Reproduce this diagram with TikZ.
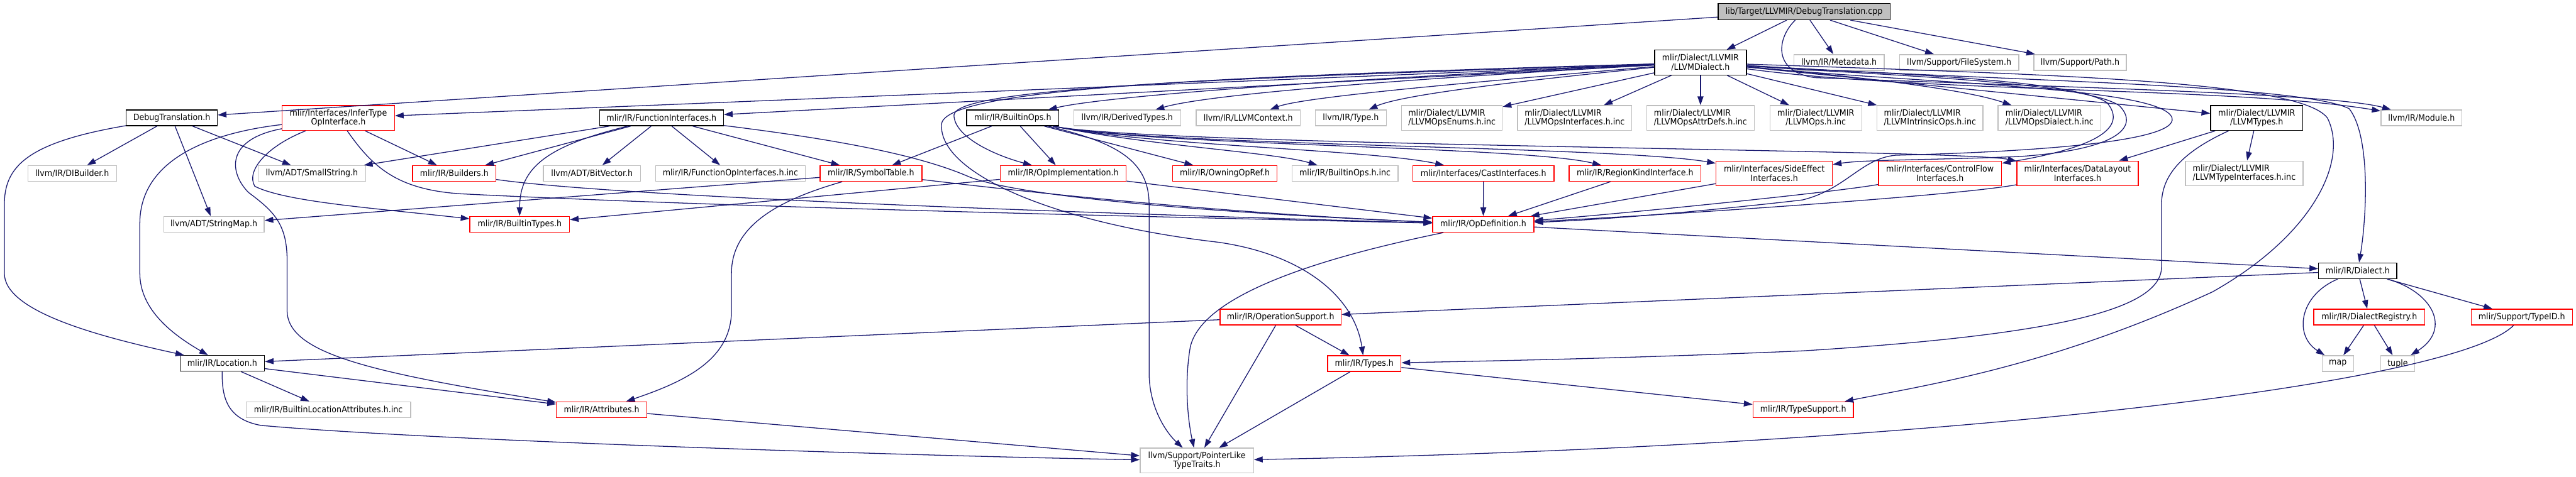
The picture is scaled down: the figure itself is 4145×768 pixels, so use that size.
\documentclass[tikz,border=0pt]{standalone}
\usepackage{fontspec}
\newfontfamily\gfont{DejaVu Sans}[FakeStretch=0.915]
\usetikzlibrary{arrows.meta}
\definecolor{edgeblue}{HTML}{191970}
\definecolor{boxgray}{HTML}{BFBFBF}
\definecolor{boxred}{HTML}{FF0000}
\tikzset{
  box/.style={draw, line width=1.4pt, minimum height=25.3, inner sep=1pt,
    font=\gfont\fontsize{14}{14.5}\selectfont, align=center, fill=white},
  gbox/.style={box, draw=boxgray},
  gboxl/.style={box, draw=boxgray, align=left},
  rbox/.style={box, draw=boxred},
  kbox/.style={box, draw=black},
  two/.style={minimum height=40},
  e/.style={draw=edgeblue, line width=1.3pt, -{Triangle[length=14pt,width=9.5pt]}}
}
\begin{document}
\begin{tikzpicture}[x=1pt,y=-1pt]
\fill[white] (0,0) rectangle (4145,768);
\useasboundingbox (0,0) rectangle (4145,768);

% ---------- nodes ----------
\node[kbox, fill=boxgray, minimum width=276.8, minimum height=26] (cpp) at (2902.9,18.7) {lib/Target/LLVMIR/DebugTranslation.cpp};

\node[kbox, two, minimum width=147.6] (lld) at (2736.2,100.7) {mlir/Dialect/LLVMIR\\/LLVMDialect.h};
\node[gbox, minimum width=145.6] (meta) at (2959.1,100.5) {llvm/IR/Metadata.h};
\node[gbox, minimum width=192] (fs) at (3152.4,100.5) {llvm/Support/FileSystem.h};
\node[gbox, minimum width=149.1] (path) at (3347,100.5) {llvm/Support/Path.h};

\node[kbox, minimum width=146.5] (dth) at (276.4,189.8) {DebugTranslation.h};
\node[rbox, two, minimum width=180.8] (ito) at (544.4,190) {mlir/Interfaces/InferType\\OpInterface.h};
\node[kbox, minimum width=199.5] (fi) at (1064.4,189.8) {mlir/IR/FunctionInterfaces.h};
\node[kbox, minimum width=148.2] (bo) at (1629.5,189.8) {mlir/IR/BuiltinOps.h};
\node[gbox, minimum width=171.9] (dt) at (1813.7,189.8) {llvm/IR/DerivedTypes.h};
\node[gbox, minimum width=167.7] (ctx) at (2008.5,189.8) {llvm/IR/LLVMContext.h};
\node[gbox, minimum width=114.3] (type) at (2173.6,189.8) {llvm/IR/Type.h};
\node[gboxl, two, minimum width=162] (enums) at (2336.3,190) {mlir/Dialect/LLVMIR\\/LLVMOpsEnums.h.inc};
\node[gboxl, two, minimum width=183.9] (ifc) at (2533.8,190) {mlir/Dialect/LLVMIR\\/LLVMOpsInterfaces.h.inc};
\node[gboxl, two, minimum width=173.4] (attrdefs) at (2736.2,190) {mlir/Dialect/LLVMIR\\/LLVMOpsAttrDefs.h.inc};
\node[gbox, two, minimum width=147.8] (opsinc) at (2921.8,190) {mlir/Dialect/LLVMIR\\/LLVMOps.h.inc};
\node[gboxl, two, minimum width=170.5] (intr) at (3105.5,190) {mlir/Dialect/LLVMIR\\/LLVMIntrinsicOps.h.inc};
\node[gboxl, two, minimum width=165.6] (opsdia) at (3297.7,190) {mlir/Dialect/LLVMIR\\/LLVMOpsDialect.h.inc};
\node[kbox, two, minimum width=148.3] (llt) at (3631.2,190) {mlir/Dialect/LLVMIR\\/LLVMTypes.h};
\node[gbox, minimum width=130.3] (module) at (3896.3,189.8) {llvm/IR/Module.h};

\node[gbox, minimum width=142.4] (dib) at (116.3,279.3) {llvm/IR/DIBuilder.h};
\node[gbox, minimum width=173.2] (ss) at (501.8,279.3) {llvm/ADT/SmallString.h};
\node[rbox, minimum width=134] (bld) at (730.9,279.3) {mlir/IR/Builders.h};
\node[gbox, minimum width=156.2] (bv) at (952.5,279.3) {llvm/ADT/BitVector.h};
\node[gbox, minimum width=241.1] (foi) at (1175.3,279.3) {mlir/IR/FunctionOpInterfaces.h.inc};
\node[rbox, minimum width=164] (st) at (1401.5,279.3) {mlir/IR/SymbolTable.h};
\node[rbox, minimum width=202.7] (oi) at (1710.8,279.3) {mlir/IR/OpImplementation.h};
\node[rbox, minimum width=168.3] (oor) at (1970.9,279.3) {mlir/IR/OwningOpRef.h};
\node[gbox, minimum width=170.6] (boinc) at (2164.2,279.3) {mlir/IR/BuiltinOps.h.inc};
\node[rbox, minimum width=226.8] (cast) at (2387,279.3) {mlir/Interfaces/CastInterfaces.h};
\node[rbox, minimum width=212.1] (rk) at (2631,279.3) {mlir/IR/RegionKindInterface.h};
\node[rbox, two, minimum width=187.1] (se) at (2854.9,279.3) {mlir/Interfaces/SideEffect\\Interfaces.h};
\node[rbox, two, minimum width=198.2] (cf) at (3121.6,279.3) {mlir/Interfaces/ControlFlow\\Interfaces.h};
\node[rbox, two, minimum width=195.5] (dl) at (3343,279.3) {mlir/Interfaces/DataLayout\\Interfaces.h};
\node[gboxl, two, minimum width=189.3] (tifc) at (3611.1,279.3) {mlir/Dialect/LLVMIR\\/LLVMTypeInterfaces.h.inc};

\node[gbox, minimum width=161.6] (sm) at (344.2,361.2) {llvm/ADT/StringMap.h};
\node[rbox, minimum width=160.2] (bt) at (836.2,361.2) {mlir/IR/BuiltinTypes.h};
\node[rbox, minimum width=163] (od) at (2386.7,361.2) {mlir/IR/OpDefinition.h};

\node[kbox, minimum width=125.9] (dialect) at (3793.7,436) {mlir/IR/Dialect.h};

\node[rbox, minimum width=195] (os) at (2060.5,510.5) {mlir/IR/OperationSupport.h};
\node[rbox, minimum width=178.6] (dr) at (3812.4,510.5) {mlir/IR/DialectRegistry.h};
\node[rbox, minimum width=163] (tid) at (4057.7,510.5) {mlir/Support/TypeID.h};

\node[kbox, minimum width=135.7] (loc) at (357.6,585.2) {mlir/IR/Location.h};
\node[rbox, minimum width=118.3] (types) at (2195.2,585.5) {mlir/IR/Types.h};
\node[gbox, minimum width=50.5] (map) at (3761.7,585.3) {map};
\node[gbox, minimum width=54.5] (tuple) at (3858,585.3) {tuple};

\node[gbox, minimum width=264.7] (bla) at (528.3,659.7) {mlir/IR/BuiltinLocationAttributes.h.inc};
\node[rbox, minimum width=145.5] (attr) at (968.1,659.7) {mlir/IR/Attributes.h};
\node[rbox, minimum width=161.6] (ts) at (2901.5,659.7) {mlir/IR/TypeSupport.h};

\node[gbox, two, minimum width=182.5] (plt) at (1925.8,741.7) {llvm/Support/PointerLike\\TypeTraits.h};

% ---------- edges ----------
\begin{scope}[on background layer/.style={}]
% cpp
\draw[e] (cpp) -- (dth);
\draw[e] (cpp) -- (lld);
\draw[e] (cpp) -- (meta);
\draw[e] (cpp) -- (fs);
\draw[e] (cpp) -- (path);
\draw[e] (cpp) .. controls (2860,60) and (2850,115) .. (2920,125) .. controls (3300,140) and (3750,150) .. (module);
% DebugTranslation.h
\draw[e] (dth) -- (dib);
\draw[e] (dth) -- (ss);
\draw[e] (dth) -- (sm);
\draw[e] (dth) .. controls (40,230) and (7,270) .. (7,330) -- (7,440) .. controls (7,500) and (150,540) .. (loc);
% InferTypeOpInterface
\draw[e] (ito) .. controls (330,215) and (225,260) .. (225,360) -- (225,440) .. controls (225,500) and (280,540) .. (loc);
\draw[e] (ito) .. controls (360,225) and (370,280) .. (400,310) .. controls (440,340) and (462,360) .. (462,420) -- (462,500) .. controls (462,570) and (600,600) .. (attr);
\draw[e] (ito) .. controls (430,235) and (395,275) .. (410,300) .. controls (460,325) and (600,335) .. (bt);
\draw[e] (ito) .. controls (600,270) and (640,305) .. (740,312) .. controls (1200,335) and (1900,350) .. (od);
\draw[e] (ito) -- (bld);
% FunctionInterfaces
\draw[e] (fi) -- (ss);
\draw[e] (fi) -- (bld);
\draw[e] (fi) .. controls (880,235) and (836,270) .. (bt);
\draw[e] (fi) -- (bv);
\draw[e] (fi) -- (foi);
\draw[e] (fi) -- (st);
\draw[e] (fi) .. controls (1350,225) and (1480,250) .. (1560,285) .. controls (1650,320) and (2000,345) .. (od);
% Builders
\draw[e] (bld) .. controls (1000,318) and (1800,345) .. (od);
% SymbolTable
\draw[e] (st) -- (sm);
\draw[e] (st) .. controls (1260,320) and (1177,360) .. (1177,440) -- (1177,500) .. controls (1177,580) and (1100,615) .. (attr);
\draw[e] (st) .. controls (1700,315) and (2000,345) .. (od);
% BuiltinOps
\draw[e] (bo) -- (st);
\draw[e] (bo) -- (oi);
\draw[e] (bo) -- (oor);
\draw[e] (bo) .. controls (1850,235) and (2050,245) .. (boinc);
\draw[e] (bo) .. controls (1850,235) and (2200,240) .. (cast);
\draw[e] (bo) .. controls (1850,235) and (2450,235) .. (rk);
\draw[e] (bo) .. controls (1850,235) and (2600,235) .. (se);
\draw[e] (bo) .. controls (1850,235) and (3150,240) .. (dl);
\draw[e] (bo) .. controls (1800,230) and (1849,260) .. (1849,330) -- (1849,600) .. controls (1849,660) and (1880,700) .. (plt);
% OpImplementation
\draw[e] (oi) -- (od);
\draw[e] (oi) -- (bt);
% interfaces -> OpDefinition
\draw[e] (cast) -- (od);
\draw[e] (rk) -- (od);
\draw[e] (se) -- (od);
\draw[e] (cf) .. controls (2950,310) and (2600,345) .. (od);
\draw[e] (dl) .. controls (3150,315) and (2700,345) .. (od);
% OpDefinition
\draw[e] (od) -- (dialect);
\draw[e] (od) .. controls (2200,400) and (1935,460) .. (1915,560) .. controls (1905,620) and (1912,680) .. (plt);
% Dialect
\draw[e] (dialect) -- (os);
\draw[e] (dialect) -- (dr);
\draw[e] (dialect) -- (tid);
\draw[e] (dialect) .. controls (3700,475) and (3690,540) .. (map);
\draw[e] (dialect) .. controls (3915,470) and (3945,530) .. (tuple);
\draw[e] (dr) -- (map);
\draw[e] (dr) -- (tuple);
\draw[e] (tid) .. controls (3950,620) and (3100,720) .. (plt);
% OperationSupport
\draw[e] (os) -- (loc);
\draw[e] (os) -- (plt);
\draw[e] (os) -- (types);
% Types
\draw[e] (types) -- (ts);
\draw[e] (types) -- (plt);
% Location
\draw[e] (loc) -- (bla);
\draw[e] (loc) -- (attr);
\draw[e] (loc) .. controls (357,640) and (365,675) .. (420,685) .. controls (700,710) and (1500,735) .. (plt);
% Attributes
\draw[e] (attr) -- (plt);
% LLVMTypes
\draw[e] (llt) -- (tifc);
\draw[e] (llt) -- (dl);
\draw[e] (llt) .. controls (3500,250) and (3478,290) .. (3478,330) -- (3478,430) .. controls (3478,500) and (3300,540) .. (2900,565) .. controls (2600,578) and (2350,582) .. (types);
% LLVMDialect
\draw[e] (lld) -- (ito);
\draw[e] (lld) -- (fi);
\draw[e] (lld) .. controls (2300,120) and (1800,150) .. (bo);
\draw[e] (lld) .. controls (2300,125) and (1950,150) .. (dt);
\draw[e] (lld) .. controls (2400,130) and (2100,155) .. (ctx);
\draw[e] (lld) .. controls (2500,125) and (2260,150) .. (type);
\draw[e] (lld) -- (enums);
\draw[e] (lld) -- (ifc);
\draw[e] (lld) -- (attrdefs);
\draw[e] (lld) -- (opsinc);
\draw[e] (lld) -- (intr);
\draw[e] (lld) .. controls (2950,120) and (3150,140) .. (opsdia);
\draw[e] (lld) -- (llt);
\draw[e] (lld) .. controls (3100,150) and (3600,140) .. (module);
\draw[e] (lld) .. controls (2000,125) and (1540,140) .. (1535,185) .. controls (1535,220) and (1600,250) .. (oi);
\draw[e] (lld) .. controls (2000,122) and (1520,140) .. (1515,200) .. controls (1510,280) and (1700,360) .. (1960,390) .. controls (2100,410) and (2180,480) .. (types);
\draw[e] (lld) .. controls (3100,135) and (3480,140) .. (3495,190) .. controls (3505,230) and (3250,245) .. (3050,250) .. controls (2995,255) and (2970,305) .. (2900,322) .. controls (2700,345) and (2550,355) .. (od);
\draw[e] (lld) .. controls (3000,120) and (3350,130) .. (3410,170) .. controls (3440,200) and (3420,240) .. (3250,252) .. controls (3100,258) and (3000,257) .. (se);
\draw[e] (lld) .. controls (3000,118) and (3330,125) .. (3390,165) .. controls (3420,200) and (3390,235) .. (cf);
\draw[e] (lld) .. controls (3200,130) and (3700,135) .. (3780,175) .. controls (3815,220) and (3808,350) .. (dialect);
\draw[e] (lld) .. controls (3300,120) and (3700,130) .. (3745,190) .. controls (3780,260) and (3720,380) .. (3560,470) .. controls (3300,590) and (3100,620) .. (ts);
\end{scope}
\end{tikzpicture}
\end{document}
